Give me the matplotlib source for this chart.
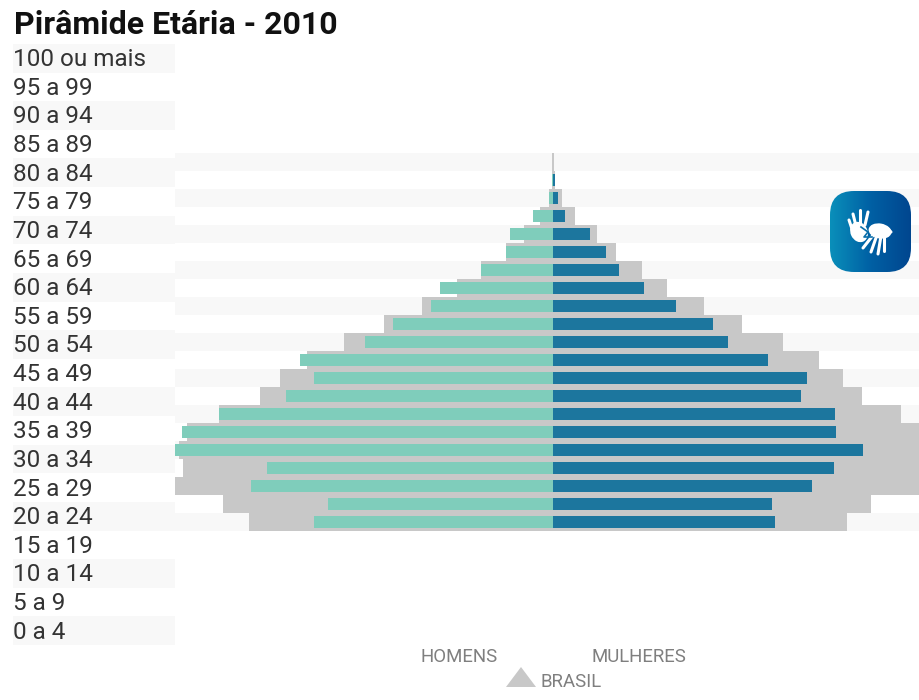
import matplotlib
matplotlib.use('Agg')
import matplotlib.pyplot as plt
import numpy as np
from matplotlib.patches import FancyBboxPatch, Polygon, Ellipse

plt.rcParams['font.family'] = ['Roboto', 'DejaVu Sans']

faixas = ['100 ou mais', '95 a 99', '90 a 94', '85 a 89', '80 a 84', '75 a 79', '70 a 74',
          '65 a 69', '60 a 64', '55 a 59', '50 a 54', '45 a 49', '40 a 44', '35 a 39',
          '30 a 34', '25 a 29', '20 a 24', '15 a 19', '10 a 14', '5 a 9', '0 a 4']

# percent of population
homens = [0.0, 0.01, 0.05, 0.23, 0.48, 0.53, 0.80, 1.26, 1.36, 1.78, 2.09,
          2.81, 2.66, 2.97, 3.72, 4.13, 4.20, 3.18, 3.36, 2.50, 2.66]
mulheres = [0.0, 0.02, 0.05, 0.13, 0.41, 0.59, 0.73, 1.01, 1.36, 1.77, 1.94,
            2.39, 2.82, 2.75, 3.13, 3.14, 3.44, 3.12, 2.88, 2.43, 2.46]
brasil_h = [0.01, 0.02, 0.05, 0.15, 0.33, 0.53, 0.80, 1.07, 1.46, 1.88, 2.33,
            2.74, 3.04, 3.26, 3.72, 4.07, 4.16, 4.12, 4.20, 3.67, 3.38]
brasil_m = [0.01, 0.02, 0.10, 0.24, 0.48, 0.70, 0.99, 1.26, 1.67, 2.10, 2.55,
            2.95, 3.22, 3.43, 3.86, 4.25, 4.30, 4.06, 4.06, 3.53, 3.26]

W, H = 920, 700
azul = '#1c769e'
verde = '#7fcdbb'
cinza = '#c8c8c8'
faixa = '#f8f8f8'


def box(x0, y0, x1, y1):
    return [x0 / W, 1 - y1 / H, (x1 - x0) / W, (y1 - y0) / H]


fig = plt.figure(figsize=(9.2, 7), dpi=100, facecolor='white')

# age labels on the left
ax_lab = fig.add_axes(box(13, 44, 175, 645))
ax_lab.set_xlim(0, 1)
ax_lab.set_ylim(len(faixas) - 0.5, -0.5)
ax_lab.axis('off')
for i, nome in enumerate(faixas):
    if i % 2 == 0:
        ax_lab.axhspan(i - 0.5, i + 0.5, color=faixa, lw=0)
    ax_lab.text(0.0, i + 0.05, nome, fontsize=17.5, color='#333333', va='center', ha='left')

# pyramid
ax = fig.add_axes(box(175, 153, 920, 531))
y = np.arange(len(faixas))
ax.set_xlim((175 - 553.3) / 90, (920 - 553.3) / 90)
ax.set_ylim(len(faixas) - 0.5, -0.5)
ax.axis('off')
for i in y[::2]:
    ax.axhspan(i - 0.5, i + 0.5, color=faixa, lw=0, zorder=0)
ax.barh(y, -np.array(brasil_h), height=1.0, color=cinza, lw=0, zorder=1)
ax.barh(y, brasil_m, height=1.0, color=cinza, lw=0, zorder=1)
ax.barh(y, -np.array(homens), height=0.62, color=verde, lw=0, zorder=2)
ax.barh(y, mulheres, height=0.62, color=azul, lw=0, zorder=2)

fig.text(14 / W, 1 - 25 / H, 'Pirâmide Etária - 2010', fontsize=23, fontweight='bold',
         color='#111111', va='center', ha='left')
fig.text(421 / W, 1 - 657 / H, 'HOMENS', fontsize=13.4, color='#7f7f7f', va='center', ha='left')
fig.text(592 / W, 1 - 657 / H, 'MULHERES', fontsize=13.4, color='#7f7f7f', va='center', ha='left')
fig.text(541 / W, 1 - 682 / H, 'BRASIL', fontsize=13.4, color='#7f7f7f', va='center', ha='left')

# overlay in pixel coordinates for legend triangle and the Libras icon
ov = fig.add_axes([0, 0, 1, 1], facecolor='none')
ov.set_xlim(0, W)
ov.set_ylim(H, 0)
ov.axis('off')
ov.add_patch(Polygon([(506, 687), (521, 667), (536, 687)], color=cinza, lw=0))

grad = np.linspace(0, 1, 200).reshape(1, -1)
cmap = matplotlib.colors.LinearSegmentedColormap.from_list('libras', ['#0a8fba', '#0060a4', '#00468f'])
im = ov.imshow(grad, extent=(830, 911, 272, 191), cmap=cmap, aspect='auto', zorder=3)
patch = FancyBboxPatch((845, 206), 51, 51, boxstyle='round,pad=15,rounding_size=24',
                       fc='none', ec='none', transform=ov.transData, zorder=3)
ov.add_patch(patch)
im.set_clip_path(patch)
ov.set_xlim(0, W)
ov.set_ylim(H, 0)

# hands
ov.add_patch(Ellipse((859, 232), 17, 21, angle=-25, color='white', lw=0, zorder=4))
for x0, y0, x1, y1 in [(853, 232, 849, 220), (856, 226, 853, 214), (860, 224, 860, 210),
                       (865, 225, 868, 212)]:
    ov.plot([x0, x1], [y0, y1], color='white', lw=2.2, solid_capstyle='round', zorder=4)
ov.add_patch(Ellipse((880, 231), 23, 15, angle=10, color='white', lw=0, zorder=5))
for x0, y0, x1, y1 in [(874, 234, 863, 248), (877, 235, 871, 252), (881, 236, 878, 254),
                       (884, 235, 884, 251)]:
    ov.plot([x0, x1], [y0, y1], color='white', lw=2.2, solid_capstyle='round', zorder=5)
ov.plot([888, 891], [229, 232], color='white', lw=2.2, solid_capstyle='round', zorder=5)
ov.plot([861, 868, 864, 872], [227, 232, 237, 237], color='#0a6fab', lw=1.2, zorder=6)

fig.savefig('out.png', dpi=100, facecolor='white')
